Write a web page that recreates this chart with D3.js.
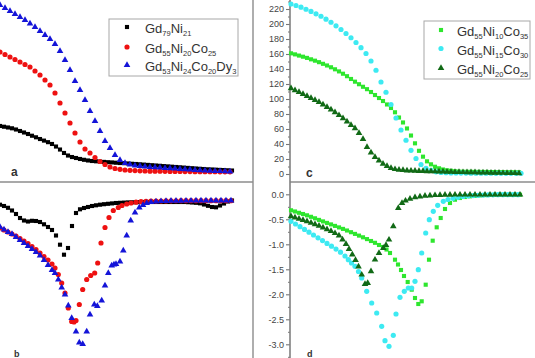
<!DOCTYPE html>
<html><head><meta charset="utf-8">
<script src="https://cdn.jsdelivr.net/npm/d3@7"></script>
<style>body{margin:0;background:#fff}svg{display:block}</style>
</head><body>
<script>
// ---------- DATA (T in K) ----------
// panel a (top-left): magnetisation-like curves
const aBlack = [[100,62.7],[104,61.7],[108,60.7],[112,59.6],[116,58],[120,56],[124,54],[128,52],[132,49.7],[136,47.6],[140,45.3],[144,43.2],[148,41.1],[152,38.7],[156,35.3],[160,31.3],[164,26.7],[168,23.3],[172,21.3],[176,20],[180,18.7],[184,17.6],[188,16.7],[192,16],[196,15.6],[200,15.2],[204,14.8],[208,14.4],[212,14.1],[216,13.7],[220,13.3],[224,13.1],[228,12.7],[232,12.3],[236,12],[240,11.6],[244,11.2],[248,10.8],[252,10.4],[256,10],[260,9.6],[264,9.2],[268,8.8],[272,8.4],[276,8],[280,7.6],[284,7.2],[288,6.8],[292,6.4],[296,6],[300,5.6],[304,5.3],[308,4.9],[312,4.7],[316,4.4],[320,4.1],[324,3.9],[328,3.6],[332,3.3]];
const aRed = [[100,161.3],[105,158],[110,154.7],[115,151.3],[120,148],[125,144.7],[130,141.3],[135,136],[140,130.7],[145,124],[150,117.3],[155,106.7],[160,93.3],[165,80],[170,66.7],[175,53.3],[180,41.3],[185,32],[190,26.7],[195,20.7],[200,15.3],[205,11.3],[210,8],[215,6],[220,4.9],[225,4],[230,3.6],[235,3.2],[240,2.9],[245,2.7],[250,2.5],[255,2.4],[260,2.3],[265,2.2],[270,2.1],[275,2],[280,2],[285,1.9],[290,1.9],[295,1.8],[300,1.8],[305,1.7],[310,1.7],[315,1.7],[320,1.6],[325,1.6],[330,1.6]];
const aBlue = [[100,224],[105,220],[110,216],[115,212],[120,208],[125,204],[130,199.3],[135,194.7],[140,189.3],[145,184],[150,178.7],[155,172],[160,162.7],[165,150.7],[170,137.3],[175,122.7],[180,110.7],[185,97.3],[190,82.7],[195,69.3],[200,56],[205,42.7],[210,33.3],[215,24],[220,17.3],[225,13.3],[230,11.3],[235,10],[240,9.3],[245,8.7],[250,8],[255,7.6],[260,7.2],[265,6.7],[270,6.3],[275,5.9],[280,5.3],[285,4.9],[290,4.5],[295,4],[300,3.7],[305,3.3],[310,2.9],[315,2.7],[320,2.4],[325,2.1],[330,2]];
// panel b (bottom-left): derivative curves
const bBlack = [[100,-0.094],[104,-0.12],[108,-0.156],[112,-0.21],[116,-0.28],[120,-0.36],[124,-0.41],[128,-0.43],[132,-0.416],[136,-0.42],[140,-0.44],[144,-0.486],[148,-0.54],[152,-0.6],[156,-0.71],[160,-0.894],[164,-1.094],[168,-0.96],[172,-0.52],[176,-0.26],[180,-0.186],[184,-0.16],[188,-0.14],[192,-0.12],[196,-0.106],[200,-0.094],[204,-0.084],[208,-0.076],[212,-0.068],[216,-0.06],[220,-0.056],[224,-0.052],[228,-0.048],[232,-0.046],[236,-0.044],[240,-0.042],[244,-0.04],[248,-0.04],[252,-0.04],[256,-0.04],[260,-0.04],[264,-0.04],[268,-0.04],[272,-0.04],[276,-0.04],[280,-0.04],[284,-0.04],[288,-0.044],[292,-0.05],[296,-0.056],[300,-0.066],[304,-0.09],[308,-0.116],[312,-0.14],[316,-0.146],[320,-0.11],[324,-0.07],[328,-0.03],[332,-0.01]];
const bRed = [[100,-0.56],[104,-0.6],[108,-0.64],[112,-0.68],[116,-0.72],[120,-0.77],[124,-0.82],[128,-0.87],[132,-0.93],[136,-0.99],[140,-1.06],[144,-1.13],[148,-1.2],[152,-1.28],[155,-1.36],[158.3,-1.49],[161.7,-1.66],[165,-1.86],[168.3,-2.16],[171.7,-2.43],[174,-2.44],[176,-2.41],[179.3,-2.09],[182.7,-1.79],[186.7,-1.59],[190.7,-1.51],[194.7,-1.46],[197.7,-1.26],[201,-0.86],[205,-0.55],[209,-0.35],[213.3,-0.21],[218.3,-0.15],[222,-0.11],[226.7,-0.08],[231,-0.06],[236,-0.044],[241,-0.034],[246,-0.028],[251,-0.024],[256,-0.022],[261,-0.02],[266,-0.018],[271,-0.016],[276,-0.015],[281,-0.014],[286,-0.014],[291,-0.014],[296,-0.013],[301,-0.013],[306,-0.013],[311,-0.013],[316,-0.013],[321,-0.013],[326,-0.013],[331,-0.013]];
const bBlue = [[100,-0.54],[104,-0.59],[108,-0.64],[112,-0.68],[116,-0.74],[120,-0.8],[124,-0.86],[128,-0.92],[132,-0.98],[136,-1.04],[140,-1.11],[144,-1.2],[148,-1.3],[152,-1.4],[155,-1.46],[158.3,-1.59],[161.7,-1.75],[165,-1.89],[168.3,-2.11],[171.7,-2.36],[176,-2.63],[179.3,-2.85],[182.7,-2.88],[186.7,-2.63],[190,-2.29],[194.3,-2.09],[197.3,-2.12],[201.7,-2.01],[205,-1.71],[208.3,-1.46],[211.7,-1.31],[214,-1.29],[216,-1.28],[220,-1.23],[223.3,-1.01],[226.7,-0.71],[230.7,-0.41],[235,-0.25],[239.3,-0.15],[243,-0.1],[246.7,-0.06],[251,-0.04],[256,-0.03],[261,-0.024],[266,-0.02],[271,-0.018],[276,-0.016],[281,-0.015],[286,-0.014],[291,-0.014],[296,-0.013],[301,-0.013],[306,-0.013],[311,-0.013],[316,-0.013],[321,-0.013],[326,-0.013],[331,-0.013]];
// panel c (top-right)
const cGreen = [[101,160.9],[105,159.5],[109,157.9],[113,156.4],[117,154.8],[121,152.9],[125,151.1],[129,149.1],[133,146.9],[137,144.7],[141,142.3],[145,139.6],[149,136.8],[153,133.7],[157,130.4],[161,126.7],[165,123.1],[169,119.7],[173,116.3],[177,113.1],[181,109.3],[185,105.3],[189,101.3],[193,97.3],[197,92.7],[201,88],[205,82.3],[209,75.3],[213,68.7],[217,60.7],[221,51.3],[225,40.9],[229,30.9],[233,23.1],[237,16.9],[241,12.9],[245,9.7],[249,7.6],[253,6],[257,4.9],[261,4.3],[265,3.6],[269,3.2],[273,3.0],[277,2.9],[281,2.9],[285,2.8],[289,2.8],[293,2.7],[297,2.7],[301,2.6],[305,2.6],[309,2.5],[313,2.5],[317,2.4],[321,2.4],[325,2.3],[329,2.3]];
const cCyan = [[101,226.7],[106,224.7],[111,222.5],[116,219.7],[121,216.8],[126,213.6],[131,210.3],[136,206.4],[141,202.3],[146,197.6],[151,192.7],[156,187.3],[161,181.7],[166,175.3],[171,168.5],[176,160.7],[181,150.7],[186,138.3],[191,122.7],[196,109],[201,92.7],[206,74.7],[211,58.7],[216,45],[221,31.6],[226,20.7],[231,12.7],[236,7.7],[241,4.8],[246,2.9],[251,2.1],[256,1.7],[261,1.5],[266,1.3],[271,1.2],[276,1.2],[281,1.1],[286,1.1],[291,1.0],[296,1.0],[301,1.0],[306,0.9],[311,0.9],[316,0.9],[321,0.9],[326,0.9],[331,0.9]];
const cDark = [[101,114.3],[105,111.7],[109,109.2],[113,106.7],[117,104],[121,101.3],[125,98.7],[129,95.9],[133,92.7],[137,89.3],[141,86],[145,82.3],[149,78.4],[153,74.3],[157,70],[161,65.3],[165,60.9],[169,54.7],[173,46.7],[177,36],[181,28.7],[185,22.7],[189,18],[193,13.7],[197,10.7],[201,8],[205,6.4],[209,5.6],[213,5.1],[217,4.7],[221,4.4],[225,4.1],[229,4],[233,3.9],[237,3.7],[241,3.6],[245,3.4],[249,3.3],[253,3.1],[257,3.0],[261,2.8],[265,2.7],[269,2.5],[273,2.4],[277,2.3],[281,2.2],[285,2.1],[289,2.0],[293,1.9],[297,1.8],[301,1.7],[305,1.6],[309,1.5],[313,1.4],[317,1.3],[321,1.2],[325,1.1],[329,1.0]];
// panel d (bottom-right)
const dGreen = [[101,-0.32],[105,-0.344],[109,-0.37],[113,-0.394],[117,-0.42],[121,-0.45],[125,-0.48],[129,-0.512],[133,-0.542],[137,-0.572],[141,-0.602],[145,-0.632],[149,-0.662],[153,-0.692],[157,-0.724],[161,-0.758],[165,-0.792],[169,-0.826],[173,-0.86],[177,-0.896],[181,-0.934],[185,-0.97],[189,-1.014],[193,-1.054],[196.5,-1.104],[200,-1.174],[205,-1.308],[208,-1.404],[211,-1.514],[214,-1.634],[217.7,-1.754],[221.7,-1.908],[225,-2.074],[228.3,-2.194],[231.7,-2.14],[235.7,-1.808],[239,-1.308],[242.7,-0.928],[246.7,-0.66],[250.7,-0.474],[255,-0.294],[260,-0.174],[265,-0.108],[270,-0.074],[275,-0.054],[280,-0.04],[285,-0.03],[290,-0.022],[295,-0.016],[300,-0.012],[305,-0.01],[310,-0.008],[315,-0.008],[320,-0.008],[325,-0.008],[330,-0.008]];
const dCyan = [[101,-0.54],[105.5,-0.594],[110,-0.648],[114.5,-0.702],[119,-0.758],[123.5,-0.814],[128,-0.87],[132.5,-0.926],[137,-0.982],[141.5,-1.038],[146,-1.096],[150.5,-1.158],[155,-1.234],[158.3,-1.308],[161.5,-1.374],[165,-1.44],[168.5,-1.544],[171.7,-1.674],[176.7,-1.94],[181.7,-2.174],[186.7,-2.374],[191.7,-2.64],[195,-2.928],[199,-3.04],[203.3,-2.82],[206,-2.394],[210,-2.06],[214.3,-1.94],[218.3,-1.874],[221.7,-1.874],[225,-1.74],[228.3,-1.508],[231.7,-1.174],[235.7,-0.774],[239.3,-0.508],[243.3,-0.34],[247.7,-0.22],[253.3,-0.14],[258,-0.104],[263,-0.08],[268,-0.06],[273,-0.044],[278,-0.034],[283,-0.026],[288,-0.02],[293,-0.016],[298,-0.012],[303,-0.01],[308,-0.008],[313,-0.008],[318,-0.008],[323,-0.008],[328,-0.008]];
const dDark = [[101,-0.44],[105,-0.464],[109,-0.49],[113,-0.516],[117,-0.542],[121,-0.57],[125,-0.6],[129,-0.632],[133,-0.666],[137,-0.702],[141,-0.736],[145,-0.778],[149,-0.826],[152.5,-0.904],[156,-0.994],[159,-1.094],[162.3,-1.204],[165.5,-1.314],[168.5,-1.444],[171.7,-1.608],[175,-1.794],[177.7,-1.774],[181,-1.54],[185,-1.308],[189,-1.174],[193.3,-1.074],[196,-1.014],[199,-0.908],[203.3,-0.64],[208.3,-0.274],[212,-0.174],[215.5,-0.128],[220,-0.09],[225,-0.06],[230,-0.044],[235,-0.032],[240,-0.024],[245,-0.018],[250,-0.014],[255,-0.012],[260,-0.01],[265,-0.008],[270,-0.008],[275,-0.008],[280,-0.008],[285,-0.008],[290,-0.008],[295,-0.008],[300,-0.008],[305,-0.008],[310,-0.008],[315,-0.008],[320,-0.008],[325,-0.008],[330,-0.008]];

// tick labels
const topTicks = [0,20,40,60,80,100,120,140,160,180,200,220];
const topMinor = [10,30,50,70,90,110,130,150,170,190,210,230];
const botTicks = [0,-0.5,-1,-1.5,-2,-2.5,-3];
const botMinor = [-0.25,-0.75,-1.25,-1.75,-2.25,-2.75,-3.25];
const panelLetters = ["a","b","c","d"];

// legends: [text, "s" for subscript]
const legendLeft = [
  {name:[["Gd",""],["79","s"],["Ni",""],["21","s"]], shape:"square", color:"#000000"},
  {name:[["Gd",""],["55","s"],["Ni",""],["20","s"],["Co",""],["25","s"]], shape:"circle", color:"#ee1111"},
  {name:[["Gd",""],["53","s"],["Ni",""],["24","s"],["Co",""],["20","s"],["Dy",""],["3","s"]], shape:"triangle", color:"#1414d8"}
];
const legendRight = [
  {name:[["Gd",""],["55","s"],["Ni",""],["10","s"],["Co",""],["35","s"]], shape:"square", color:"#2ee62e"},
  {name:[["Gd",""],["55","s"],["Ni",""],["15","s"],["Co",""],["30","s"]], shape:"circle", color:"#3deaf2"},
  {name:[["Gd",""],["55","s"],["Ni",""],["20","s"],["Co",""],["25","s"]], shape:"triangle", color:"#116a16"}
];

// ---------- DRAWING ----------
const W = 535, H = 358;
const svg = d3.select("body").append("svg").attr("width", W).attr("height", H);
svg.append("rect").attr("width", W).attr("height", H).attr("fill", "#fff");

const xL = d3.scaleLinear().domain([100, 353]).range([0, 253]);
const xR = d3.scaleLinear().domain([100, 345]).range([290, 535]);
const yTL = d3.scaleLinear().domain([0, 220]).range([173, 8]);
const yBL = d3.scaleLinear().domain([0, -3]).range([200, 350]);
const yTR = d3.scaleLinear().domain([0, 220]).range([174, 9]);
const yBR = d3.scaleLinear().domain([0, -3]).range([194.3, 344.3]);

const symTypes = {square: d3.symbolSquare, circle: d3.symbolCircle, triangle: d3.symbolTriangle};
const symSizes = {square: 17, circle: 21, triangle: 19};
const font = "Arial, 'Liberation Sans', sans-serif";

function series(data, x, y, shape, color) {
  const sym = d3.symbol().type(symTypes[shape]).size(symSizes[shape]);
  svg.append("g").selectAll("path").data(data).join("path")
    .attr("transform", d => `translate(${x(d[0])},${y(d[1])})`)
    .attr("d", sym).attr("fill", color);
}

// frame lines
const frameCol = "#8c8c8c";
svg.append("line").attr("x1", 253).attr("x2", 253).attr("y1", 0).attr("y2", H).attr("stroke", frameCol).attr("stroke-width", 1.4);
svg.append("line").attr("x1", 0).attr("x2", 253).attr("y1", 182).attr("y2", 182).attr("stroke", frameCol).attr("stroke-width", 1.4);
svg.append("line").attr("x1", 290).attr("x2", W).attr("y1", 182).attr("y2", 182).attr("stroke", frameCol).attr("stroke-width", 1.4);

// right axes
function axis(scale, major, minor, fmt) {
  const g = svg.append("g").attr("transform", "translate(290,0)");
  g.call(d3.axisLeft(scale).tickValues(major).tickSize(4).tickPadding(2).tickFormat(fmt));
  g.select(".domain").remove();
  g.selectAll("line").attr("stroke", "#777").attr("stroke-width", 1.1);
  g.selectAll("text").attr("font-family", font).attr("font-size", 9).attr("fill", "#444");
  const gm = svg.append("g").attr("transform", "translate(290,0)");
  gm.call(d3.axisLeft(scale).tickValues(minor).tickSize(2).tickFormat(""));
  gm.select(".domain").remove();
  gm.selectAll("line").attr("stroke", "#777").attr("stroke-width", 1);
}
axis(yTR, topTicks, topMinor, d => String(d));
axis(yBR, botTicks, botMinor, d => d.toFixed(1));
svg.append("line").attr("x1", 290).attr("x2", 290).attr("y1", 0).attr("y2", H).attr("stroke", "#808080").attr("stroke-width", 1.6);

// data series
series(aBlack, xL, yTL, "square", "#000000");
series(aRed, xL, yTL, "circle", "#ee1111");
series(aBlue, xL, yTL, "triangle", "#1414d8");
series(bBlack, xL, yBL, "square", "#000000");
series(bRed, xL, yBL, "circle", "#ee1111");
series(bBlue, xL, yBL, "triangle", "#1414d8");
series(cGreen, xR, yTR, "square", "#2ee62e");
series(cCyan, xR, yTR, "circle", "#3deaf2");
series(cDark, xR, yTR, "triangle", "#116a16");
series(dGreen, xR, yBR, "square", "#2ee62e");
series(dCyan, xR, yBR, "circle", "#3deaf2");
series(dDark, xR, yBR, "triangle", "#116a16");

// legends
function legend(items, box, mx, tx, rowsY) {
  svg.append("rect").attr("x", box[0]).attr("y", box[1]).attr("width", box[2]).attr("height", box[3])
    .attr("fill", "#fff").attr("stroke", "#a8a8a8").attr("stroke-width", 1);
  items.forEach((it, i) => {
    const by = rowsY[i];
    const sym = d3.symbol().type(symTypes[it.shape]).size(symSizes[it.shape]);
    svg.append("path").attr("transform", `translate(${mx},${by - 6})`).attr("d", sym).attr("fill", it.color);
    const t = svg.append("text").attr("x", tx).attr("y", by)
      .attr("font-family", font).attr("fill", "#333");
    it.name.forEach(([s, k]) => {
      t.append("tspan").attr("y", k === "s" ? by + 3 : by)
        .attr("font-size", k === "s" ? 7.5 : 13).text(s);
    });
  });
}
legend(legendLeft, [109, 19, 129, 57], 127, 145, [33, 53, 71]);
legend(legendRight, [424, 21, 106, 58], 441, 457, [36, 54.5, 74]);

// panel letters
const letterPos = [[11, 176], [14, 357], [306, 177], [307, 357]];
panelLetters.forEach((L, i) => {
  svg.append("text").attr("x", letterPos[i][0]).attr("y", letterPos[i][1])
    .attr("font-family", font).attr("font-weight", "bold")
    .attr("font-size", i === 1 || i === 3 ? 9 : 12).attr("fill", "#333").text(L);
});
</script>
</body></html>
